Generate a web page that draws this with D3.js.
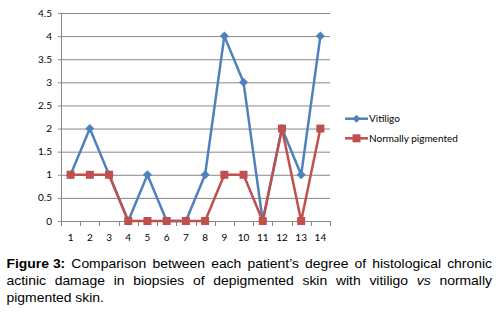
<!DOCTYPE html>
<html><head><meta charset="utf-8">
<script src="https://cdn.jsdelivr.net/npm/d3@7"></script>
<style>body{margin:0;background:#fff}svg{display:block}</style>
</head><body>
<svg id="c" width="500" height="312"></svg>
<script>
const categories = ["1","2","3","4","5","6","7","8","9","10","11","12","13","14"];
const vitiligo = [1,2,1,0,1,0,0,1,4,3,0,2,1,4];
const normal = [1,1,1,0,0,0,0,0,1,1,0,2,0,2];
const yTicks = [0,0.5,1,1.5,2,2.5,3,3.5,4,4.5];
const seriesNames = ["Vitiligo","Normally pigmented"];
const captionLines = [
  [{t:"Figure 3:",b:true},{t:"Comparison"},{t:"between"},{t:"each"},{t:"patient’s"},{t:"degree"},{t:"of"},{t:"histological"},{t:"chronic"}],
  [{t:"actinic"},{t:"damage"},{t:"in"},{t:"biopsies"},{t:"of"},{t:"depigmented"},{t:"skin"},{t:"with"},{t:"vitiligo"},{t:"vs",i:true},{t:"normally"}],
  [{t:"pigmented"},{t:"skin."}]
];

const svg = d3.select("#c");
const L=61, R=330, T=13, B=221;
const x = d3.scaleBand().domain(categories).range([L,R]);
const y = d3.scaleLinear().domain([0,4.5]).range([B,T]);
const blue="#4F81BD", red="#C0504D", grid="#868686";
const font="Lato, 'Open Sans', sans-serif";

// grid
svg.append("g").selectAll("line").data(yTicks).join("line")
  .attr("x1",L-3).attr("x2",R).attr("y1",d=>y(d)+0.5).attr("y2",d=>y(d)+0.5)
  .attr("stroke",grid).attr("stroke-width",1);
svg.append("line").attr("x1",L+0.5).attr("x2",L+0.5).attr("y1",T).attr("y2",B+4).attr("stroke",grid);
const edges = categories.map(c=>x(c)).concat([R]);
svg.append("g").selectAll("line").data(edges).join("line")
  .attr("x1",d=>Math.round(d)+0.5).attr("x2",d=>Math.round(d)+0.5).attr("y1",B).attr("y2",B+5)
  .attr("stroke",grid);
svg.append("g").selectAll("text").data(yTicks).join("text")
  .attr("x",L-9).attr("y",d=>y(d)+3.5).attr("text-anchor","end")
  .attr("font-family",font).attr("font-size",10).attr("fill","#000").text(d=>d);
svg.append("g").selectAll("text").data(categories).join("text")
  .attr("x",d=>x(d)+x.bandwidth()/2).attr("y",B+20).attr("text-anchor","middle")
  .attr("font-family",font).attr("font-size",10).attr("fill","#000").text(d=>d);

const cx = (d,i)=>x(categories[i])+x.bandwidth()/2;
const line = d3.line().x(cx).y(d=>y(d));
function diamond(g, px, py, s, col){
  g.append("path").attr("d",`M${px},${py-s}L${px+s},${py}L${px},${py+s}L${px-s},${py}Z`).attr("fill",col);
}
svg.append("path").datum(vitiligo).attr("d",line).attr("fill","none").attr("stroke",blue).attr("stroke-width",2.5).attr("stroke-linejoin","round");
const gv=svg.append("g");
vitiligo.forEach((d,i)=>diamond(gv,cx(d,i),y(d),4.5,blue));
svg.append("path").datum(normal).attr("d",line).attr("fill","none").attr("stroke",red).attr("stroke-width",2.5).attr("stroke-linejoin","round");
svg.append("g").selectAll("rect").data(normal).join("rect")
  .attr("x",(d,i)=>cx(d,i)-4).attr("y",d=>y(d)-4).attr("width",8).attr("height",8).attr("fill",red);

const lg = svg.append("g");
const ly=[118.7,138.3];
lg.append("line").attr("x1",345).attr("x2",368).attr("y1",ly[0]).attr("y2",ly[0]).attr("stroke",blue).attr("stroke-width",2.5);
diamond(lg,356.5,ly[0],4,blue);
lg.append("line").attr("x1",345).attr("x2",368).attr("y1",ly[1]).attr("y2",ly[1]).attr("stroke",red).attr("stroke-width",2.5);
lg.append("rect").attr("x",352.5).attr("y",ly[1]-4).attr("width",8).attr("height",8).attr("fill",red);
lg.selectAll("text").data(seriesNames).join("text")
  .attr("x",369).attr("y",(d,i)=>ly[i]+3.5).attr("font-family",font).attr("font-size",10).attr("fill","#000").text(d=>d);

// caption, justified, slightly widened horizontally
const capX0=6.5, capX1=492, capY=[268,285.5,302];
const cf="'Liberation Sans', Arial, sans-serif", cfs=12.4;
const probe=svg.append("text").attr("font-family",cf).attr("font-size",cfs).text("pigmented skin.");
const sx = 97.5/probe.node().getComputedTextLength();
probe.remove();
const spaceW = 3.45*sx;
captionLines.forEach((words,li)=>{
  const g=svg.append("g").attr("transform",`translate(${capX0},0) scale(${sx},1)`);
  const ts=words.map(w=>g.append("text").attr("y",capY[li]).attr("font-family",cf).attr("font-size",cfs)
    .attr("font-weight",w.b?"bold":"normal").attr("font-style",w.i?"italic":"normal").attr("fill","#000").text(w.t));
  const ws=ts.map(t=>t.node().getComputedTextLength());
  const total=d3.sum(ws);
  const last = li===captionLines.length-1;
  const avail=(capX1-capX0)/sx;
  const gap = last ? 3.45 : (avail-total)/(words.length-1);
  let xx=0;
  ts.forEach((t,i)=>{t.attr("x",xx); xx+=ws[i]+gap;});
});
</script>
</body></html>
